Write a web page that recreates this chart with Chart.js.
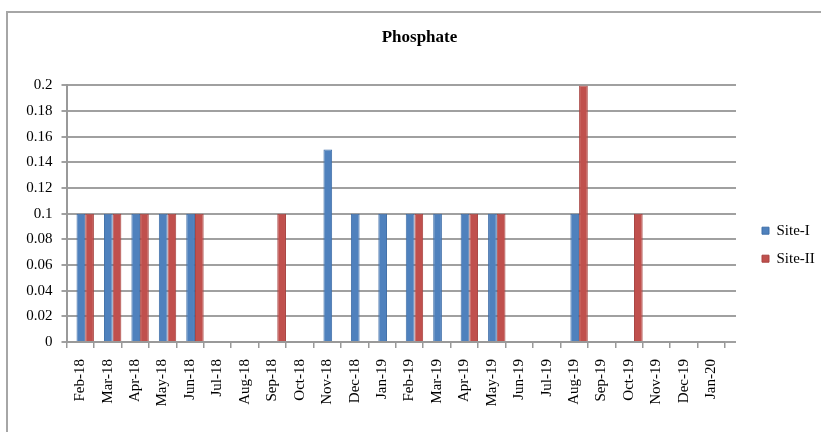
<!DOCTYPE html>
<html>
<head>
<meta charset="utf-8">
<script src="https://cdn.jsdelivr.net/npm/chart.js@4/dist/chart.umd.min.js"></script>
<style>
html,body{margin:0;padding:0;background:#fff;}
#wrap{width:821px;height:432px;position:relative;}
</style>
</head>
<body>
<div id="wrap"><canvas id="c" width="821" height="432"></canvas></div>
<script>
const chartTitle = 'Phosphate';
const categories = ['Feb-18','Mar-18','Apr-18','May-18','Jun-18','Jul-18','Aug-18','Sep-18','Oct-18','Nov-18','Dec-18','Jan-19','Feb-19','Mar-19','Apr-19','May-19','Jun-19','Jul-19','Aug-19','Sep-19','Oct-19','Nov-19','Dec-19','Jan-20'];
const seriesNames = ['Site-I','Site-II'];
const siteI  = [0.1,0.1,0.1,0.1,0.1,0,0,0,0,0.15,0.1,0.1,0.1,0.1,0.1,0.1,0,0,0.1,0,0,0,0,0];
const siteII = [0.1,0.1,0.1,0.1,0.1,0,0,0.1,0,0,0,0,0.1,0,0.1,0.1,0,0,0.2,0,0.1,0,0,0];
const yTickLabels = ['0','0.02','0.04','0.06','0.08','0.1','0.12','0.14','0.16','0.18','0.2'];

const FONT = 'Liberation Serif';
const GRID = '#a0a0a0';

const excelPlugin = {
  id: 'excelStyle',
  beforeDraw(chart) {
    const ctx = chart.ctx;
    ctx.save();
    ctx.fillStyle = '#ffffff';
    ctx.fillRect(0, 0, chart.width, chart.height);
    ctx.strokeStyle = '#a6a6a6';
    ctx.lineWidth = 2;
    ctx.beginPath();
    ctx.moveTo(7, chart.height);
    ctx.lineTo(7, 12);
    ctx.lineTo(chart.width, 12);
    ctx.stroke();
    ctx.restore();
  },
  beforeDatasetsDraw(chart) {
    const ctx = chart.ctx;
    const ys = chart.scales.y;
    const ca = chart.chartArea;
    ctx.save();
    ctx.strokeStyle = GRID;
    ctx.lineWidth = 2;
    ys.ticks.forEach(t => {
      const y = Math.round(ys.getPixelForValue(t.value));
      ctx.beginPath();
      ctx.moveTo(ca.right, y);
      ctx.lineTo(ca.right + 11, y);
      ctx.stroke();
    });
    ctx.restore();
    ctx.save();
    ctx.translate(5, 0);
  },
  afterDatasetsDraw(chart) {
    chart.ctx.restore();
  }
};

new Chart(document.getElementById('c'), {
  type: 'bar',
  data: {
    labels: categories,
    datasets: [
      { label: seriesNames[0], data: siteI, backgroundColor: '#4F81BD', borderColor: '#3F6EA8', borderWidth: 1 },
      { label: seriesNames[1], data: siteII, backgroundColor: '#C0504D', borderColor: '#A84340', borderWidth: 1 }
    ]
  },
  options: {
    responsive: false,
    devicePixelRatio: 1,
    animation: false,
    layout: { padding: { left: 18, right: 0, top: 0, bottom: 0 } },
    datasets: { bar: { categoryPercentage: 0.634, barPercentage: 1.0 } },
    scales: {
      x: {
        type: 'category',
        offset: true,
        grid: { offset: true, drawOnChartArea: false, drawTicks: true, tickLength: 6, color: '#999', lineWidth: 1.5 },
        border: { display: true, color: '#999', width: 2 },
        ticks: { autoSkip: false, minRotation: 90, maxRotation: 90, padding: 11, color: '#000', font: { family: FONT, size: 15 } },
        afterFit(s) { s.height = 90; }
      },
      y: {
        min: 0, max: 0.2,
        grid: { color: GRID, lineWidth: 2, drawTicks: true, tickLength: 5 },
        border: { display: true, color: '#999', width: 2 },
        ticks: { stepSize: 0.02, padding: 9, color: '#000', font: { family: FONT, size: 15 },
          callback: (v, i) => yTickLabels[i] },
        afterFit(s) { s.width = 48.5; }
      },
      y2: {
        type: 'linear',
        position: 'right',
        display: true,
        grid: { display: false, drawTicks: false },
        border: { display: false },
        ticks: { display: false },
        afterFit(s) { s.width = 24; }
      }
    },
    plugins: {
      title: {
        display: true, text: chartTitle, color: '#000',
        font: { family: FONT, size: 17, weight: 'bold' },
        padding: { top: 27, bottom: 38 }
      },
      legend: {
        position: 'right',
        maxWidth: 72,
        labels: { boxWidth: 7, boxHeight: 7, padding: 13, color: '#000', font: { family: FONT, size: 15 } },
        title: { display: true, text: '', padding: { top: 43, bottom: 0 }, font: { size: 12 } }
      },
      tooltip: { enabled: false }
    }
  },
  plugins: [excelPlugin]
});
</script>
</body>
</html>
